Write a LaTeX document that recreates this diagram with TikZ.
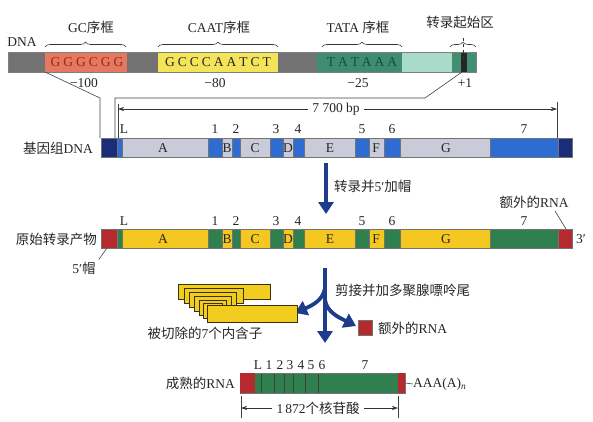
\documentclass[tikz,border=0pt]{standalone}
\usepackage{fontspec}
\setmainfont{Liberation Serif}
\newfontfamily\cjk{Noto Sans CJK SC}
\usetikzlibrary{decorations.pathreplacing,arrows.meta}
\definecolor{txt}{HTML}{262626}
\definecolor{dgray}{HTML}{727272}
\definecolor{gcred}{HTML}{E5785E}
\definecolor{gctxt}{HTML}{8B2B1B}
\definecolor{caaty}{HTML}{F4E45A}
\definecolor{tatag}{HTML}{3E8C72}
\definecolor{tatatxt}{HTML}{1C4A3A}
\definecolor{ltteal}{HTML}{A8DCC8}
\definecolor{startg}{HTML}{3F8F70}
\definecolor{navy}{HTML}{1B2D78}
\definecolor{gblue}{HTML}{2E6CD1}
\definecolor{lgray}{HTML}{C9CCD8}
\definecolor{capred}{HTML}{B52A2F}
\definecolor{exg}{HTML}{2F7F4F}
\definecolor{yel}{HTML}{F4C820}
\definecolor{arrblue}{HTML}{1D3C8C}
\definecolor{intron}{HTML}{F2CC1E}
\begin{document}
\begin{tikzpicture}[x=1pt,y=-1pt,
  lbl/.style={inner sep=0pt, font=\fontsize{13.5}{15}\selectfont, text=txt},
  seg/.style={draw=black!55, line width=0.4pt},
  thinline/.style={draw=black!75, line width=0.6pt},
  bigarrow/.style={draw=arrblue, line width=3.8pt, -{Triangle[length=12pt,width=15pt]}},
  dimarrow/.style={draw=black!80, line width=0.6pt, -{Stealth[length=6pt,width=4pt]}},
  bracestyle/.style={draw=black!80, line width=0.6pt, decorate, decoration={brace,amplitude=5pt}},
  introncell/.style={fill=intron, draw=black!60!intron!60!black, line width=0.6pt},
]
\useasboundingbox (0,0) rectangle (593,422);

% ---------- top promoter DNA ----------
\fill[dgray] (8,52) rectangle (476,72);
\fill[gcred] (45,52) rectangle (127,72);
\fill[caaty] (158,52) rectangle (278,72);
\fill[tatag] (317,52) rectangle (402,72);
\fill[ltteal] (402,52) rectangle (452,72);
\fill[startg] (452,52) rectangle (476,72);
\fill[black!85] (461,52) rectangle (467,72);
\draw[black!50, line width=0.4pt] (8,52) rectangle (476,72);

\node[lbl, text=gctxt] (gcseq) at (87,62.5) {G\kern3pt G\kern3pt G\kern3pt C\kern3pt G\kern3pt G};
\node[lbl, text=txt] (caatseq) at (218,62.5) {G\kern3pt C\kern3pt C\kern3pt C\kern3pt A\kern3pt A\kern3pt T\kern3pt C\kern3pt T};
\node[lbl, text=tatatxt] (tataseq) at (362,62.5) {T\kern3pt A\kern3pt T\kern3pt A\kern3pt A\kern3pt A};

\node[lbl] (dna) at (22,42) {DNA};
\draw[bracestyle] (45,47) -- (126,47);
\draw[bracestyle] (158,47) -- (278,47);
\draw[bracestyle] (322,47) -- (402,47);
\draw[bracestyle] (450,47) -- (476,47);
\draw[black!80, line width=0.5pt, dashed] (463,38) -- (463,60);
\node[lbl] (gcl) at (91,27) {GC{\cjk 序框}};
\node[lbl] (caatl) at (219,27) {CAAT{\cjk 序框}};
\node[lbl] (tatal) at (358,27) {TATA {\cjk 序框}};
\node[lbl] (tssl) at (460,22) {\cjk 转录起始区};

\node[lbl] (m100) at (84,83) {−100};
\node[lbl] (m80) at (215,83) {−80};
\node[lbl] (m25) at (358,83) {−25};
\node[lbl] (p1) at (465,83) {+1};

% connection lines to gene
\coordinate (cl0) at (45,72);
\coordinate (cl1) at (100,98);
\coordinate (cl2) at (100,138);
\coordinate (cr0) at (462,72);
\coordinate (cr1) at (425,98);
\coordinate (cr2) at (115,98);
\coordinate (cr3) at (115,138);
\draw[thinline] (cl0) -- (cl1) -- (cl2);
\draw[thinline] (cr0) -- (cr1) -- (cr2) -- (cr3);

% 7700 bp dimension
\coordinate (dl0) at (118,104);
\coordinate (dl1) at (118,138);
\coordinate (dr0) at (557,102);
\coordinate (dr1) at (557,138);
\draw[thinline] (dl0) -- (dl1);
\draw[thinline] (dr0) -- (dr1);
\node[lbl, fill=white, inner xsep=4pt] (bp) at (336,109) {7 700 bp};
\draw[dimarrow] (bp.west) -- (dl0 |- bp.west);
\draw[dimarrow] (bp.east) -- (dr0 |- bp.east);

% ---------- genomic DNA ----------
\foreach \a/\b/\c in {101/117/navy, 117/122/gblue, 122/208/lgray, 208/222/gblue, 222/232/lgray,
  232/240/gblue, 240/270/lgray, 270/283/gblue, 283/293/lgray, 293/304/gblue, 304/355/lgray,
  355/369/gblue, 369/384/lgray, 384/400/gblue, 400/490/lgray, 490/558/gblue, 558/572/navy}
  \filldraw[seg, fill=\c] (\a,138) rectangle (\b,157);
\node[lbl, anchor=east] (gdna) at (93,148) {{\cjk 基因组}DNA};
\foreach \x/\t in {124/L, 215/1, 236/2, 276/3, 298/4, 362/5, 392/6, 524/7}
  \node[lbl] (gn\t) at (\x,129) {\t};
\foreach \x/\t in {163/A, 227/B, 255/C, 288/D, 330/E, 376/F, 446/G}
  \node[lbl] (gi\t) at (\x,148) {\t};

% arrow 1
\coordinate (a1s) at (326,163);
\coordinate (a1e) at (326,214);
\draw[bigarrow] (a1s) -- (a1e);
\node[lbl, anchor=west] (a1l) at (334,186) {{\cjk 转录并}5′{\cjk 加帽}};

% ---------- primary transcript ----------
\foreach \a/\b/\c in {101/117/capred, 117/122/exg, 122/208/yel, 208/222/exg, 222/232/yel,
  232/240/exg, 240/270/yel, 270/283/exg, 283/293/yel, 293/304/exg, 304/355/yel,
  355/369/exg, 369/384/yel, 384/400/exg, 400/490/yel, 490/558/exg, 558/572/capred}
  \filldraw[seg, fill=\c] (\a,229) rectangle (\b,248);
\node[lbl, anchor=east] (pt) at (97,239) {\cjk 原始转录产物};
\foreach \x/\t in {124/L, 215/1, 236/2, 276/3, 298/4, 362/5, 392/6, 524/7}
  \node[lbl] (pn\t) at (\x,221) {\t};
\foreach \x/\t in {163/A, 227/B, 255/C, 288/D, 330/E, 376/F, 446/G}
  \node[lbl] (pi\t) at (\x,239) {\t};
\node[lbl] (three) at (581,239) {3′};
\node[lbl] (cap) at (84,268) {5′{\cjk 帽}};
\coordinate (capend) at (107,248);
\draw[thinline] (cap.north east) ++(3,-2) coordinate (capst) -- (capend);
\node[lbl] (extra1) at (534,202) {{\cjk 额外的}RNA};
\coordinate (ex1a) at (555,211);
\coordinate (ex1b) at (566,229);
\draw[thinline] (ex1a) -- (ex1b);

% ---------- splicing arrow ----------
\coordinate (s2top) at (325,268);
\coordinate (s2bot) at (325,343);
\coordinate (br1) at (325,288);
\coordinate (lt) at (295,313);
\coordinate (br2) at (325,300);
\coordinate (rt) at (356,326);
\draw[bigarrow] (s2top) -- (s2bot);
\draw[bigarrow] (br1) .. controls (323,300) and (313,305) .. (lt);
\draw[bigarrow] (br2) .. controls (327,312) and (338,317) .. (rt);
\node[lbl, anchor=west] (splice) at (335,290) {\cjk 剪接并加多聚腺嘌呤尾};

% introns
\filldraw[introncell] (178,284) rectangle (270,299);
\filldraw[introncell] (184,288) rectangle (243,303);
\filldraw[introncell] (189,292) rectangle (236,307);
\filldraw[introncell] (194,296) rectangle (231,311);
\filldraw[introncell] (199,300) rectangle (226,315);
\filldraw[introncell] (203,303) rectangle (222,318);
\filldraw[introncell] (207,305) rectangle (297,322);
\node[lbl] (introns) at (205,333) {{\cjk 被切除的}7{\cjk 个内含子}};

\filldraw[seg, fill=capred] (358,320) rectangle (372,335);
\node[lbl, anchor=west] (extra2) at (378,328) {{\cjk 额外的}RNA};

% ---------- mature RNA ----------
\filldraw[seg, fill=exg] (240,373) rectangle (405,393);
\fill[capred] (240.2,373.2) rectangle (255,392.8);
\fill[capred] (398,373.2) rectangle (404.8,392.8);
\foreach \x in {261,274,284,293,305,318}
  \draw[black!75, line width=0.6pt] (\x,373.5) -- (\x,392.5);
\foreach \x/\t in {258/L, 269/1, 280/2, 290/3, 301/4, 311/5, 322/6, 365/7}
  \node[lbl] (mn\t) at (\x,365) {\t};
\node[lbl, anchor=east] (mrna) at (235,383) {{\cjk 成熟的}RNA};
\coordinate (tail0) at (405,383);
\node[lbl, anchor=west] (tail) at (413,384) {AAA(A)\textsubscript{\textit{n}}};
\draw[thinline] (tail0) -- (tail.west);

\coordinate (ml0) at (241,396);
\coordinate (ml1) at (241,418);
\coordinate (mr0) at (398,396);
\coordinate (mr1) at (398,418);
\draw[thinline] (ml0) -- (ml1);
\draw[thinline] (mr0) -- (mr1);
\node[lbl, inner xsep=4pt] (nt) at (318,408) {1\kern2pt 872{\cjk 个核苷酸}};
\draw[dimarrow] (nt.west) -- (ml0 |- nt.west);
\draw[dimarrow] (nt.east) -- (mr0 |- nt.east);
\end{tikzpicture}
\end{document}
